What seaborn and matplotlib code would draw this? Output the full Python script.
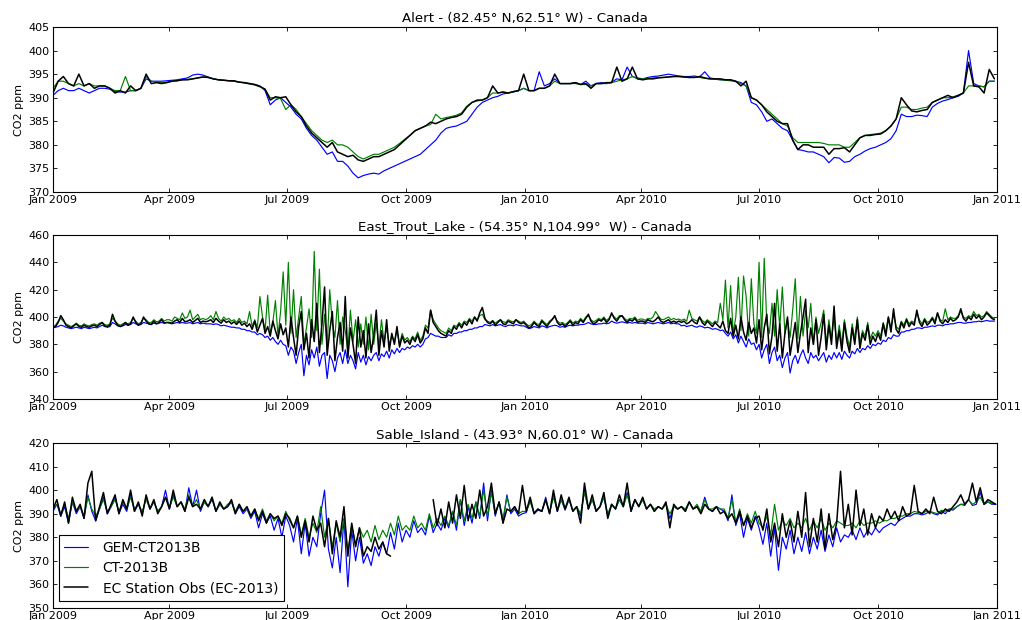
import numpy as np
import pandas as pd
import matplotlib
matplotlib.use("Agg")
import matplotlib.pyplot as plt
import matplotlib.dates as mdates
import seaborn as sns

nan = np.nan

# ---------------------------------------------------------------------------
# Alert: one value every 4 days from 2009-01-01
# ---------------------------------------------------------------------------
alert_gem = [
    390.5, 391.5, 392, 391.5, 391.5, 392, 391.5, 391, 391.5, 392,
    392, 391.8, 391.3, 391.2, 391.2, 391.5, 391.5, 392, 394, 393.5,
    393.5, 393.5, 393.6, 393.7, 393.8, 394, 394.2, 394.8, 395, 394.8,
    394.4, 394, 393.8, 393.7, 393.6, 393.5, 393.3, 393.2, 393, 392.8,
    392.5, 391.5, 388.5, 389.5, 390, 389, 388, 386.5, 385.5, 383.5,
    382, 381, 379.5, 378, 378.5, 376.5, 376.5, 375.5, 374, 373,
    373.5, 373.8, 374, 373.8, 374.5, 375, 375.5, 376, 376.5, 377,
    377.5, 378, 379, 380, 381, 382.5, 383.5, 383.8, 384, 384.5,
    385, 386.5, 388, 389, 389.5, 390, 390.3, 390.8, 391, 391.2,
    391.5, 392, 391.5, 391.5, 395.5, 392.5, 393, 394, 393, 393,
    393, 393.2, 392.8, 393.5, 392.5, 393, 393.2, 393, 393.3, 394,
    393.8, 396.5, 394.5, 394.2, 394, 394.3, 394.5, 394.6, 394.8, 395,
    394.8, 394.6, 394.5, 394.5, 394.6, 394.4, 395.5, 394.2, 394, 393.8,
    393.8, 393.7, 393.5, 393.2, 392.5, 389, 388.5, 387, 385, 385.5,
    384.5, 383.5, 383, 381, 379, 378.8, 378.5, 378.5, 378, 377.5,
    376.2, 377.3, 377.2, 376.3, 376.5, 377.5, 378, 378.7, 379.2, 379.5,
    380, 380.5, 381.3, 383, 386.5, 386, 386, 386.3, 386.2, 386,
    388, 388.8, 389.3, 389.6, 390, 390.3, 391, 400, 393, 392.5,
    392.3, 393.5, 393.5,
]
alert_ct = [
    392, 393.5, 393.5, 393, 392.5, 393, 392.5, 393, 392.5, 392.5,
    392.5, 392, 391.5, 391.5, 394.5, 391.5, 391.5, 392, 394.5, 393.5,
    393.3, 393.2, 393.3, 393.5, 393.6, 393.8, 393.9, 394, 394.2, 394.4,
    394.3, 394, 393.8, 393.7, 393.6, 393.5, 393.3, 393.1, 392.9, 392.7,
    392.3, 391.8, 390, 390, 389.8, 387.5, 388.5, 387.5, 386, 384.5,
    383, 382, 381, 380.5, 381, 380, 380, 379.5, 378.5, 377.5,
    377, 377.5, 378, 378, 378.5, 379, 379.5, 380.3, 381.2, 382,
    383, 383.5, 384, 384.3, 386.5, 385.5, 385.8, 386, 386.3, 386.8,
    388.2, 389, 389.3, 389.5, 390, 391, 391, 391.2, 391, 391.3,
    391.5, 392, 391.5, 391.5, 392, 392, 392.5, 393.5, 393, 393,
    393, 393, 392.8, 392.8, 392.5, 393, 393, 393, 393.2, 393.5,
    393.8, 394, 394.5, 394, 394, 394.1, 394.2, 394.3, 394.3, 394.4,
    394.5, 394.5, 394.4, 394.3, 394.3, 394.3, 394.1, 394, 393.9, 393.8,
    393.7, 393.6, 393.4, 393, 392.5, 390, 389.5, 388.5, 387.5, 386.5,
    385.5, 384.5, 384, 381.5, 380.5, 380.5, 380.5, 380.5, 380.5, 380.3,
    380, 380, 380, 379.5, 379.5, 380.5, 381.5, 382, 382.2, 382.3,
    382.5, 383, 384, 385.5, 388, 388, 387.5, 387.5, 387.8, 388,
    389, 389.5, 390, 390, 390.2, 390.5, 391, 392.5, 392.5, 392.5,
    392.3, 393.5, 393.5,
]
alert_obs = [
    391, 393.5, 394.5, 393, 392.5, 395, 392.5, 393, 392, 392.5,
    392.5, 392, 391, 391.5, 391, 392.5, 391.5, 392, 395, 393,
    393.2, 393, 393.2, 393.5, 393.6, 393.8, 393.8, 394, 394.2, 394.4,
    394.3, 394, 393.8, 393.7, 393.6, 393.6, 393.3, 393.2, 393, 392.8,
    392.4, 391.8, 389.5, 390.2, 390, 390.2, 388.5, 387, 386, 384,
    382.5, 381.5, 380.5, 379.5, 380.5, 378.5, 378, 377.5, 377.8, 376.8,
    376.5, 377, 377.5, 377.5, 378, 378.5, 379, 380, 381, 382,
    383, 383.5, 384, 384.8, 384.5, 385, 385.5, 385.8, 386, 386.5,
    388, 389, 389.5, 389.5, 390, 392.5, 391, 391.2, 391, 391.3,
    391.5, 395, 391.5, 391.5, 392, 392, 392.5, 395, 393, 393,
    393, 393.2, 392.8, 393, 392, 393, 393, 393.2, 393.2, 396.5,
    393.5, 394, 396.5, 394, 393.8, 394, 394, 394.2, 394.3, 394.4,
    394.5, 394.5, 394.4, 394.3, 394.3, 394.5, 394.2, 394, 394, 394,
    393.8, 393.8, 393.5, 392.5, 393.5, 390, 389.5, 388.5, 387, 386,
    385, 384.5, 384.5, 381, 379, 380, 380, 379.5, 379.5, 379.5,
    378, 379.2, 379.2, 379.4, 378.5, 380, 381.5, 382, 382, 382.2,
    382.3, 383, 384, 385.5, 390, 388.5, 387.2, 387, 387.3, 387.5,
    389, 389.5, 390, 390.5, 390, 390.5, 391, 397.5, 392.5, 392.3,
    391, 396, 394,
]

# ---------------------------------------------------------------------------
# East Trout Lake: one value every 2 days from 2009-01-01 (one row per month)
# ---------------------------------------------------------------------------
etl_gem = [
    392, 392.5, 393, 394, 393.5, 392.5, 392, 391.5, 392, 392.5, 392, 391.5, 392.5, 392, 391.5, 392,
    392.5, 392, 393, 394, 393, 392.5, 393, 396, 395, 393.5, 393, 393.5, 394.5, 394,
    394.5, 396, 395, 394, 394.5, 396, 395.5, 395, 394.5, 395.5, 395, 395.5, 396, 395.5, 396,
    395.5, 395, 395.5, 396, 395.5, 396, 395.5, 395.5, 396, 395, 395.5, 396, 395, 395.5, 395,
    395, 395, 394.5, 395, 394.5, 393.5, 394, 393.5, 393, 392.5, 392.5, 392, 392, 391, 391, 390,
    390, 389, 389, 387, 388, 387, 385, 386, 383, 385, 382, 380, 383, 380, 379,
    372, 378, 375, 366, 374, 380, 357, 372, 365, 376, 370, 378, 364, 372, 374,
    355, 372, 368, 360, 370, 374, 366, 376, 366, 372, 368, 362, 374, 367, 372, 365,
    371, 368, 372, 374, 368, 373, 371, 375, 370, 376, 373, 377, 374, 377, 376,
    378, 377, 379, 378, 380, 378, 380, 384, 385, 388, 387, 386, 386, 385, 385,
    385, 387, 386, 388, 388, 389, 389, 390, 390, 391, 391, 392, 392, 393, 393,
    394.5, 394, 393.5, 394.5, 393.5, 394, 394.5, 393.5, 393, 394, 394, 393.5, 394.5, 394, 393.5, 393.5,
    392.5, 391.5, 392, 393, 392.5, 392, 393.5, 393, 392, 393, 393.5, 394, 393.5, 392.5, 393,
    392.5, 393.5, 394, 393.5, 394, 394, 394.5, 394.5, 395, 396, 395, 394.5, 394.5, 395,
    395, 395.5, 395, 395.5, 397, 396, 395.5, 396, 396.5, 396, 395.5, 396, 395.5, 396, 395.5, 395.5,
    395.5, 395, 396, 395.5, 395, 395.5, 396, 395.5, 395, 395.5, 396, 395, 395.5, 395, 395,
    393.5, 394, 393, 393.5, 394, 393, 392.5, 393.5, 393, 392, 392.5, 392, 391, 391.5, 391,
    390, 390.5, 388, 386, 389, 384, 387, 381, 386, 382, 378, 384, 380, 381, 376,
    380, 370, 376, 380, 366, 374, 378, 368, 372, 363, 370, 374, 359, 368, 372, 366,
    372, 376, 370, 366, 374, 370, 372, 368, 371, 374, 367, 372, 369, 374, 370,
    374, 369, 375, 372, 370, 375, 373, 377, 374, 377, 376, 379, 377, 380, 379,
    381, 380, 383, 382, 385, 384, 387, 386, 386, 389, 389, 390, 390, 391, 391, 392,
    392, 391.5, 392.5, 392.5, 393, 393.5, 393, 394, 394, 393.5, 394.5, 394.5, 395, 395, 395.5,
    396, 396, 395.5, 395.5, 396, 396, 396.5, 396.5, 397, 396.5, 397, 397.5, 397, 397, 397,
]
etl_ct = [
    393, 394, 397, 399, 397, 395, 394, 393, 394, 395.5, 394, 393.5, 395, 394, 393.5, 394.5,
    395, 394, 395.5, 396, 394.5, 394, 395, 399, 397, 395, 394, 395, 396, 395,
    396, 399, 397, 395, 396, 399, 398, 396, 396, 398, 396.5, 397, 399, 397, 398,
    398, 397, 400, 399, 398, 403, 399, 400, 405, 398, 400, 402, 398, 399, 398,
    399, 401, 398, 404, 399, 397, 400, 398, 399, 397, 398, 396, 399, 396, 397, 395,
    404, 393, 398, 392, 415, 400, 390, 416, 388, 396, 412, 386, 404, 433, 394,
    440, 388, 420, 385, 400, 415, 380, 392, 406, 385, 448, 390, 435, 380, 402,
    378, 420, 395, 385, 412, 380, 400, 390, 375, 405, 382, 398, 378, 395, 380, 400,
    376, 402, 380, 396, 378, 398, 382, 392, 380, 386, 382, 390, 380, 388, 383,
    385, 382, 386, 384, 389, 383, 386, 394, 392, 405, 398, 395, 392, 390, 389,
    388, 392, 390, 394, 393, 396, 394, 397, 396, 399, 397, 400, 398, 401, 402,
    398, 397, 396, 397.5, 395.5, 397, 398, 396.5, 396, 398, 397, 396.5, 398, 397, 396, 397,
    395, 393.5, 394.5, 397, 395, 394.5, 398, 396, 394.5, 397, 398.5, 400, 397, 395.5, 396,
    394.5, 396, 398, 395.5, 397, 396.5, 399, 397, 400, 401, 398, 396.5, 397.5, 399,
    398, 400, 397.5, 399, 402, 400, 398.5, 401, 401, 399, 397.5, 399, 398.5, 400, 397.5, 398.5,
    398.5, 397.5, 399, 398.5, 400, 404, 401, 398.5, 398, 399, 400, 398, 399, 398, 398.5,
    397.5, 398.5, 397, 405, 399, 398, 397, 400, 397.5, 396, 398, 396.5, 395, 397, 396,
    410, 398, 427, 392, 423, 388, 400, 429, 390, 430, 415, 386, 428, 395, 388,
    440, 385, 443, 395, 388, 410, 386, 420, 392, 422, 388, 398, 385, 405, 428, 384,
    415, 386, 405, 392, 410, 380, 400, 388, 396, 405, 380, 398, 384, 400, 380,
    394, 380, 398, 386, 378, 395, 384, 400, 381, 390, 386, 396, 384, 389, 386,
    390, 386, 396, 389, 400, 392, 402, 393, 391, 397, 394, 399, 395, 397, 396, 403,
    398, 395, 399, 396, 397, 400, 397, 403, 398, 397, 406, 398, 400, 399, 399,
    401, 404, 400, 399, 401, 400, 404, 401, 402, 400, 401, 404, 402, 400, 399,
]
etl_obs = [
    392.5, 393, 396, 401, 398, 394, 393, 392, 393.5, 395, 393, 392.5, 394, 393, 392.5, 393.5,
    394, 393, 394.5, 396, 393.5, 393, 394, 402, 397, 394, 393, 394, 396, 394,
    395, 400, 396, 394, 395, 400, 397, 395, 394.5, 397, 395, 396, 398, 395.5, 396,
    396, 395.5, 397, 398, 396, 399, 396.5, 397, 398, 396, 397.5, 399, 396, 397, 396.5,
    397, 398, 396, 399, 397, 395.5, 398, 396, 397, 395, 396.5, 394.5, 397, 394, 395.5, 393,
    395, 391, 397, 389, 394, 399, 388, 393, 386, 397, 390, 384, 395, 387, 392,
    378, 400, 385, 372, 393, 404, 376, 388, 370, 398, 382, 410, 374, 395, 422,
    372, 390, 404, 368, 385, 396, 375, 415, 370, 392, 380, 366, 400, 378, 390, 370,
    395, 374, 386, 405, 372, 390, 378, 398, 375, 388, 380, 393, 378, 386, 381,
    383, 380, 385, 382, 387, 381, 384, 392, 388, 405, 396, 393, 390, 388, 387,
    386, 390, 388, 393, 391, 395, 392, 396, 394, 398, 395, 400, 397, 403, 407,
    399, 396, 395, 397, 394, 396, 398, 395, 394.5, 397, 396, 395, 398, 396, 395, 396,
    394, 392, 393, 396, 394, 393, 397, 395, 393, 396, 398, 401, 396, 394, 395,
    393, 395, 397, 394, 396, 395, 398, 396, 399, 402, 397, 395, 396, 398,
    397, 399, 396, 398, 403, 399, 397, 400, 401, 398, 396, 398, 397, 399, 396, 397,
    397, 396, 398, 397, 396.5, 398, 400, 397, 396, 397, 398, 396, 397, 396, 397,
    396, 397, 395, 396, 398, 396, 395, 400, 396, 394, 397, 395, 393, 396, 394,
    392, 397, 390, 388, 399, 386, 394, 384, 400, 389, 383, 396, 388, 392, 381,
    398, 376, 392, 402, 373, 386, 410, 375, 395, 370, 388, 400, 372, 384, 396, 374,
    388, 400, 413, 374, 392, 380, 398, 372, 385, 402, 376, 394, 380, 408, 377,
    390, 375, 396, 382, 374, 392, 380, 398, 377, 388, 383, 394, 380, 386, 382,
    388, 383, 395, 386, 400, 389, 406, 391, 388, 396, 392, 398, 393, 396, 394, 405,
    396, 393, 398, 394, 396, 399, 395, 403, 397, 395, 398, 396, 399, 397, 398,
    400, 406, 399, 397, 400, 398, 402, 399, 401, 398, 400, 403, 401, 399, 398,
]

# ---------------------------------------------------------------------------
# Sable Island: one value every 3 days from 2009-01-01 (one row per month)
# ---------------------------------------------------------------------------
sable_gem = [
    391, 394, 389, 393, 386, 395, 390, 393, 388, 398, 391,
    387, 392, 397, 390, 393, 397, 390, 394, 391,
    398, 391, 394, 390, 397, 392, 395, 391, 393, 400,
    392, 398, 393, 395, 391, 401, 393, 400, 391, 395,
    393, 396, 391, 394, 392, 393, 395, 390, 393, 390, 392,
    388, 391, 384, 390, 386, 389, 383, 388, 380, 389,
    385, 378, 388, 373, 386, 372, 380, 376, 390, 400,
    375, 367, 380, 365, 388, 359, 383, 370, 380, 369,
    373, 368, 376, 372, 378, 373, 382, 375, 386, 378,
    383, 380, 387, 382, 384, 381, 389, 382, 386, 383, 388,
    384, 391, 383, 396, 385, 393, 386, 395, 388, 403,
    387, 400, 389, 395, 386, 398, 390, 392, 389, 390,
    390.5, 396, 390, 391.5, 391, 397, 390, 398, 391, 396,
    391.5, 396, 391, 393, 389, 400, 392, 396, 391, 393,
    397, 389, 394, 392, 396, 393, 399, 391, 396, 393,
    396, 392, 394, 391, 393, 392, 394, 388, 393, 392,
    393, 391, 395, 392, 393, 391, 397, 392, 391, 393, 392,
    391, 387, 398, 385, 390, 380, 388, 383, 389,
    384, 377, 386, 372, 384, 366, 380, 375, 383, 373, 380,
    374, 382, 373, 380, 375, 383, 374, 381, 376, 384,
    378, 381, 380, 383, 379, 384, 380, 383, 381, 384,
    382, 384, 385, 386, 385, 387, 388, 389, 389, 390,
    390, 389.5, 390, 391, 390, 389.5, 391, 390, 392, 391.5,
    393, 394, 393.5, 396, 393.5, 394, 399, 394, 395, 394, 394,
]
sable_ct = [
    392, 394, 390, 394, 388, 395, 391, 393, 389, 397, 392,
    389, 392, 396, 391, 393, 396, 391, 395, 392,
    397, 392, 394, 391, 396, 392, 395, 391, 393, 397,
    393, 397, 393, 395, 392, 398, 393, 396, 392, 395,
    393, 397, 391, 394, 392, 394, 395, 391, 394, 391, 392,
    389, 392, 388, 392, 387, 390, 387, 389, 386, 391,
    387, 384, 389, 381, 388, 380, 386, 382, 393, 380,
    388, 376, 386, 378, 388, 374, 385, 377, 384, 380,
    383, 378, 385, 379, 383, 380, 386, 381, 389, 383,
    385, 383, 389, 384, 386, 383, 390, 384, 388, 385, 389,
    385, 391, 385, 396, 387, 394, 388, 395, 389, 400,
    389, 399, 390, 395, 388, 397, 391, 393, 390, 391,
    391, 395, 390.5, 392, 391, 396, 390.5, 397, 391.5, 396,
    392, 396, 391.5, 393, 390, 399, 392, 396, 391.5, 393,
    397, 390, 394, 392, 396, 393, 398, 392, 396, 393,
    396, 392, 394, 392, 393, 392, 394, 390, 393, 392,
    393, 392, 395, 392, 394, 391, 396, 392, 392, 393, 392,
    392, 388, 396, 386, 392, 385, 390, 386, 391,
    386, 384, 389, 381, 394, 383, 387, 385, 388, 384, 386,
    384, 388, 383, 387, 384, 388, 383, 386, 384, 387,
    386, 385, 385, 386, 384, 387, 385, 386, 386, 387,
    386, 387, 387, 388, 388, 389, 389, 390, 390, 391,
    390.5, 390, 391, 391, 390.5, 390, 391.5, 391, 392, 392,
    393, 394, 394, 396, 394, 395, 397, 394, 395, 394.5, 394,
]
sable_obs = [
    392, 396, 389, 395, 386, 397, 391, 394, 388, 403, 408,
    387, 393, 399, 390, 394, 398, 390, 396, 392,
    400, 391, 395, 389, 398, 392, 396, 390, 393, 397,
    392, 400, 393, 395, 391, 397, 393, 394, 392, 396,
    393, 397, 391, 395, 392, 393, 396, 390, 394, 391, 393,
    389, 392, 387, 391, 386, 390, 388, 389, 385, 390,
    388, 384, 389, 380, 387, 378, 389, 383, 386, 376,
    388, 373, 387, 380, 393, 372, 386, 376, 384, 372,
    376, 374, 380, 375, 378, 373, 372, nan, nan, nan,
    nan, nan, nan, nan, nan, nan, nan, 396, 385, 392, 384,
    395, 386, 398, 388, 402, 387, 394, 388, 400, 389,
    393, 403, 390, 395, 386, 392, 391, 393, 390, 402,
    391, 397, 390, 392, 391, 396, 390, 400, 391, 398,
    392, 397, 391, 393, 386, 403, 392, 398, 391, 393,
    399, 388, 394, 392, 398, 393, 403, 391, 396, 393,
    397, 392, 394, 391, 393, 392, 395, 384, 394, 392,
    393, 391, 395, 392, 393, 390, 394, 392, 391, 393, 390,
    391, 388, 390, 386, 391, 385, 389, 384, 388,
    389, 383, 392, 378, 386, 376, 390, 380, 387, 378, 391,
    380, 399, 376, 388, 378, 392, 375, 390, 379, 386,
    408, 384, 394, 381, 400, 385, 392, 381, 390, 384,
    389, 387, 392, 388, 391, 387, 393, 389, 390, 402,
    391, 390, 392, 390, 397, 391, 390, 392, 391, 393,
    395, 398, 394, 396, 403, 395, 401, 394, 396, 395, 394,
]

series_labels = ["GEM-CT2013B", "CT-2013B", "EC Station Obs (EC-2013)"]
series_colors = ["#0000ff", "#008000", "#000000"]

stations = [
    dict(title="Alert - (82.45° N,62.51° W) - Canada",
         step=4, series=[alert_gem, alert_ct, alert_obs],
         ylim=(370, 405), yticks=np.arange(370, 406, 5)),
    dict(title="East_Trout_Lake - (54.35° N,104.99°  W) - Canada",
         step=2, series=[etl_gem, etl_ct, etl_obs],
         ylim=(340, 460), yticks=np.arange(340, 461, 20)),
    dict(title="Sable_Island - (43.93° N,60.01° W) - Canada",
         step=3, series=[sable_gem, sable_ct, sable_obs],
         ylim=(350, 420), yticks=np.arange(350, 421, 10)),
]

sns.set_theme(style="ticks")
plt.rcParams.update({
    "font.family": ["DejaVu Sans"],
    "axes.edgecolor": "black",
    "axes.linewidth": 0.8,
    "axes.facecolor": "white",
    "figure.facecolor": "white",
    "xtick.direction": "in",
    "ytick.direction": "in",
    "xtick.top": True,
    "ytick.right": True,
    "xtick.bottom": True,
    "ytick.left": True,
    "xtick.major.size": 3,
    "ytick.major.size": 3,
    "xtick.major.width": 0.6,
    "ytick.major.width": 0.6,
    "xtick.major.pad": 2.5,
    "ytick.major.pad": 2.5,
    "xtick.color": "black",
    "ytick.color": "black",
    "xtick.labelsize": 8,
    "ytick.labelsize": 8,
    "axes.labelsize": 8,
    "axes.labelcolor": "black",
    "axes.titlesize": 9.6,
    "text.color": "black",
})


def draw_series(ax, values, step, color, label=None, lw=0.9):
    """Plot one station series; gaps (NaN) split the line into runs."""
    dates = pd.date_range("2009-01-01", periods=len(values), freq=f"{step}D")
    df = pd.DataFrame({"date": dates, "co2": values})
    df["run"] = df["co2"].isna().cumsum()
    df = df.dropna()
    sns.lineplot(data=df, x="date", y="co2", units="run", estimator=None,
                 color=color, lw=lw, ax=ax, label=label, legend=False,
                 sort=False)


fig = plt.figure(figsize=(10.22, 6.2), dpi=100)
W, H = 1022.0, 620.0
left, right = 53 / W, 997 / W
panel_px = [(27, 192), (235, 399), (443, 608)]

axes = []
for (top, bottom), st in zip(panel_px, stations):
    ax = fig.add_axes([left, 1 - bottom / H, right - left, (bottom - top) / H])
    last = st is stations[-1]
    for vals, color, lab in zip(st["series"], series_colors, series_labels):
        lw = 1.1 if color == "#000000" else 0.85
        draw_series(ax, vals, st["step"], color, label=lab if last else None, lw=lw)
    ax.set_xlim(pd.Timestamp("2009-01-01"), pd.Timestamp("2011-01-01"))
    ax.set_ylim(*st["ylim"])
    ax.set_yticks(st["yticks"])
    ax.xaxis.set_major_locator(mdates.MonthLocator(bymonth=[1, 4, 7, 10]))
    ax.xaxis.set_major_formatter(mdates.DateFormatter("%b %Y"))
    ax.set_xlabel("")
    ax.set_ylabel("CO2 ppm", labelpad=3)
    ax.set_title(st["title"], pad=3.5)
    for sp in ax.spines.values():
        sp.set_visible(True)
        sp.set_color("black")
    axes.append(ax)

# Legend for the three sources, drawn in the bottom panel
ax = axes[-1]
handles, labels = ax.get_legend_handles_labels()
uniq = {}
for h, l in zip(handles, labels):
    uniq.setdefault(l, h)
leg = ax.legend(list(uniq.values()), list(uniq.keys()), loc="lower left",
                bbox_to_anchor=(0.006, 0.045), borderaxespad=0,
                fontsize=9.9, frameon=True, fancybox=False, framealpha=1,
                edgecolor="black", handlelength=1.7, handletextpad=1.1,
                labelspacing=0.45, borderpad=0.4)
leg.get_frame().set_linewidth(0.8)

fig.savefig("out.png", dpi=100)
